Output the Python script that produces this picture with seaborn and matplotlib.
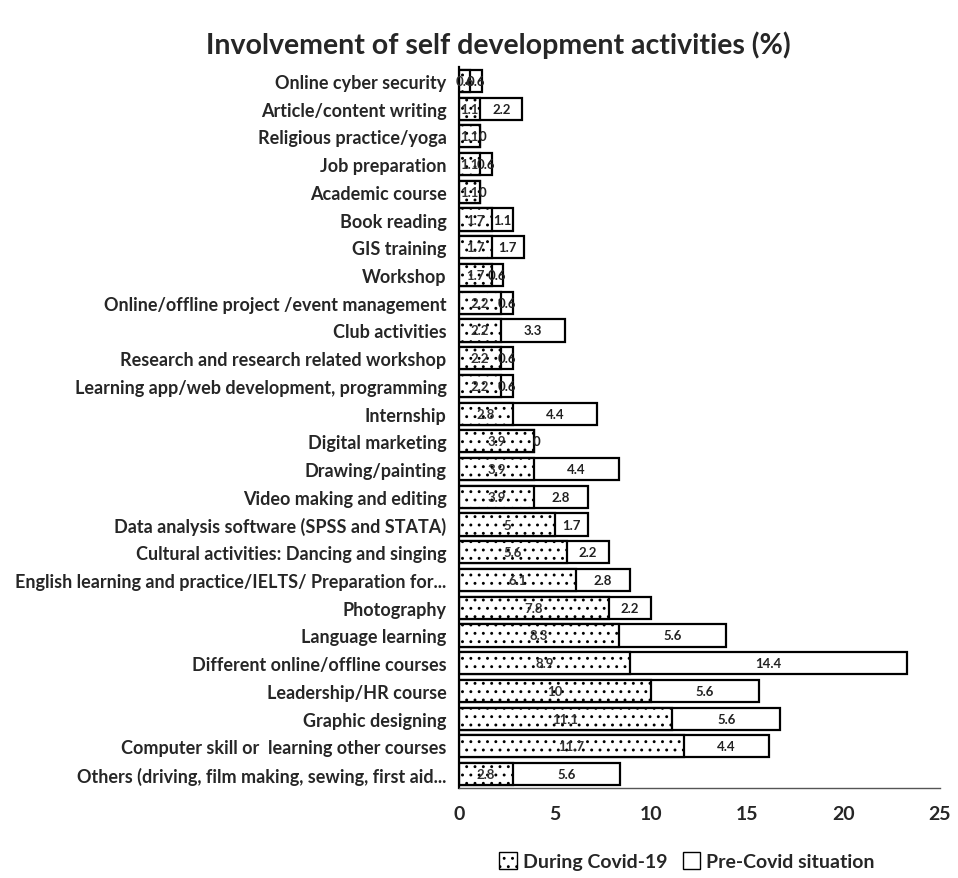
import matplotlib
matplotlib.use("Agg")
import matplotlib.pyplot as plt
import seaborn as sns
import pandas as pd
import numpy as np
from matplotlib.patches import Patch

sns.set_theme(style="white")
plt.rcParams['font.family'] = ['Lato', 'DejaVu Sans']
plt.rcParams['hatch.linewidth'] = 0.9
plt.rcParams['hatch.color'] = '#444444'

categories = [
    "Online cyber security",
    "Article/content writing",
    "Religious practice/yoga",
    "Job preparation",
    "Academic course",
    "Book reading",
    "GIS training",
    "Workshop",
    "Online/offline project /event management",
    "Club activities",
    "Research and research related workshop",
    "Learning app/web development, programming",
    "Internship",
    "Digital marketing",
    "Drawing/painting",
    "Video making and editing",
    "Data analysis software (SPSS and STATA)",
    "Cultural activities: Dancing and singing",
    "English learning and practice/IELTS/ Preparation for...",
    "Photography",
    "Language learning",
    "Different online/offline courses",
    "Leadership/HR course",
    "Graphic designing",
    "Computer skill or  learning other courses",
    "Others (driving, film making, sewing, first aid...",
]
during = [0.6, 1.1, 1.1, 1.1, 1.1, 1.7, 1.7, 1.7, 2.2, 2.2, 2.2, 2.2, 2.8, 3.9, 3.9, 3.9,
          5, 5.6, 6.1, 7.8, 8.3, 8.9, 10, 11.1, 11.7, 2.8]
pre = [0.6, 2.2, 0, 0.6, 0, 1.1, 1.7, 0.6, 0.6, 3.3, 0.6, 0.6, 4.4, 0, 4.4, 2.8,
       1.7, 2.2, 2.8, 2.2, 5.6, 14.4, 5.6, 5.6, 4.4, 5.6]
series_names = ["During Covid-19", "Pre-Covid situation"]
xticks = [0, 5, 10, 15, 20, 25]

df = pd.DataFrame({"cat": categories, "during": during, "pre": pre})
df["total"] = df["during"] + df["pre"]

fig = plt.figure(figsize=(9.58, 8.79), dpi=100)
ax = fig.add_axes([0.479, 0.1024, 0.502, 0.8202])

sns.barplot(data=df, y="cat", x="total", orient="h", color="white", edgecolor="black",
            linewidth=1.6, width=0.8, ax=ax, order=categories)
sns.barplot(data=df, y="cat", x="during", orient="h", color="white", edgecolor="black",
            linewidth=1.6, width=0.8, ax=ax, order=categories)
n = len(categories)
for p in ax.patches[n:]:
    p.set_hatch("..")

for i, (d, p_) in enumerate(zip(during, pre)):
    ax.text(d / 2, i, f"{d:g}", ha="center", va="center", fontsize=9.5, fontweight="bold", color="#333333")
    ax.text(d + p_ / 2 if p_ > 0 else d + 0.15, i, f"{p_:g}", ha="center", va="center",
            fontsize=9.5, fontweight="bold", color="#222222")

ax.set_xlim(0, 25)
ax.set_ylim(n - 0.5, -0.5)
ax.set_xticks(xticks)
ax.set_xticklabels([str(t) for t in xticks], fontsize=14, fontweight="bold")
ax.tick_params(axis="x", length=0, pad=12)
ax.tick_params(axis="y", length=0, pad=9)
for lbl in ax.get_yticklabels():
    lbl.set_fontsize(13)
    lbl.set_fontweight("bold")
ax.set_xlabel("")
ax.set_ylabel("")
for s in ["top", "right"]:
    ax.spines[s].set_visible(False)
ax.spines["left"].set_color("black")
ax.spines["left"].set_linewidth(1.6)
ax.spines["bottom"].set_color("#555555")
ax.spines["bottom"].set_linewidth(1.0)

fig.text(0.52, 0.949, "Involvement of self development activities (%)", ha="center",
         va="center", fontsize=20.5, fontweight="bold")

handles = [Patch(facecolor="white", edgecolor="black", hatch="..", label=series_names[0]),
           Patch(facecolor="white", edgecolor="black", label=series_names[1])]
fig.legend(handles=handles, loc="center", bbox_to_anchor=(0.717, 0.019), ncol=2, frameon=False,
           prop={"weight": "bold", "size": 14}, handlelength=0.9, handleheight=0.9,
           handletextpad=0.3, columnspacing=0.8)

fig.savefig("out.png", dpi=100)
